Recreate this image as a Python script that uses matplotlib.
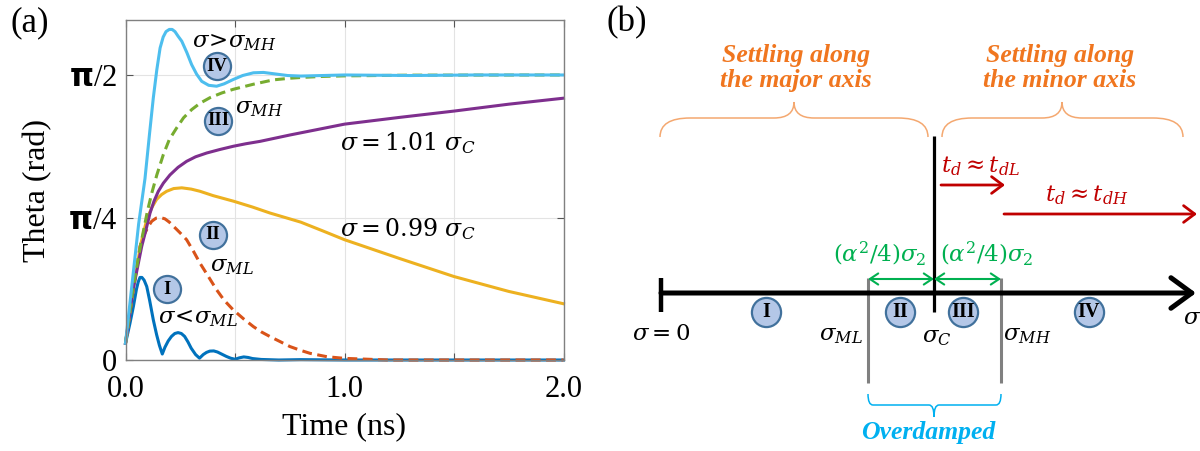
import numpy as np
import matplotlib
matplotlib.use('Agg')
import matplotlib.pyplot as plt
from matplotlib.path import Path
from matplotlib.patches import PathPatch

# theta(t) for each damping regime, t in ns, theta in rad
t_low = [0, 0.02, 0.036, 0.05, 0.058, 0.066, 0.075, 0.085, 0.097, 0.11, 0.127, 0.142,
         0.155, 0.168, 0.18, 0.195, 0.21, 0.225, 0.24, 0.255, 0.27, 0.285, 0.3, 0.32,
         0.338, 0.355, 0.37, 0.385, 0.403, 0.42, 0.44, 0.46, 0.48, 0.5, 0.52, 0.54,
         0.56, 0.58, 0.62, 0.7, 0.8, 1.0, 2.0]
th_low = [0.092, 0.2, 0.295, 0.39, 0.43, 0.455, 0.455, 0.44, 0.405, 0.33, 0.221, 0.14,
          0.08, 0.033, 0.07, 0.105, 0.13, 0.146, 0.151, 0.146, 0.13, 0.1, 0.065, 0.03,
          0.01, 0.03, 0.042, 0.049, 0.05, 0.044, 0.032, 0.02, 0.01, 0.004, 0.012, 0.017,
          0.014, 0.008, 0.003, 0.0, 0.002, 0.0, 0.0]

t_ml = [0, 0.035, 0.066, 0.085, 0.104, 0.12, 0.14, 0.16, 0.18, 0.2, 0.22, 0.25, 0.279,
        0.31, 0.34, 0.38, 0.416, 0.45, 0.492, 0.54, 0.584, 0.62, 0.66, 0.7, 0.751, 0.8,
        0.842, 0.92, 1.0, 1.2, 2.0]
th_ml = [0.092, 0.38, 0.626, 0.69, 0.736, 0.765, 0.782, 0.785, 0.778, 0.76, 0.736, 0.7,
         0.663, 0.6, 0.534, 0.457, 0.387, 0.33, 0.276, 0.226, 0.184, 0.155, 0.129, 0.105,
         0.074, 0.053, 0.037, 0.018, 0.009, 0.0, 0.0]

t_099 = [0, 0.035, 0.07, 0.097, 0.12, 0.142, 0.165, 0.188, 0.22, 0.257, 0.3, 0.34, 0.4,
         0.494, 0.58, 0.66, 0.8, 0.9, 1.0, 1.25, 1.5, 1.75, 2.0]
th_099 = [0.092, 0.39, 0.64, 0.774, 0.84, 0.885, 0.912, 0.93, 0.945, 0.949, 0.942, 0.93,
          0.906, 0.875, 0.843, 0.81, 0.76, 0.712, 0.663, 0.56, 0.46, 0.378, 0.31]

t_101 = [0, 0.035, 0.074, 0.095, 0.112, 0.13, 0.15, 0.173, 0.203, 0.24, 0.279, 0.32,
         0.371, 0.43, 0.492, 0.55, 0.614, 0.75, 0.875, 1.0, 1.25, 1.5, 1.75, 2.0]
th_101 = [0.092, 0.39, 0.626, 0.725, 0.81, 0.875, 0.93, 0.975, 1.02, 1.062, 1.095, 1.12,
          1.141, 1.16, 1.178, 1.192, 1.205, 1.24, 1.27, 1.3, 1.337, 1.372, 1.41, 1.443]

t_mh = [0, 0.035, 0.07, 0.1, 0.12, 0.143, 0.173, 0.2, 0.234, 0.265, 0.302, 0.34, 0.386,
        0.44, 0.492, 0.584, 0.675, 0.75, 0.812, 0.9, 1.0, 1.3, 2.0]
th_mh = [0.092, 0.4, 0.64, 0.82, 0.92, 1.02, 1.133, 1.215, 1.28, 1.335, 1.38, 1.415,
         1.446, 1.472, 1.492, 1.52, 1.544, 1.553, 1.558, 1.563, 1.566, 1.57, 1.571]

t_high = [0, 0.03, 0.06, 0.089, 0.11, 0.127, 0.143, 0.158, 0.172, 0.185, 0.2, 0.213,
          0.226, 0.24, 0.257, 0.28, 0.302, 0.325, 0.348, 0.38, 0.416, 0.45, 0.492, 0.535,
          0.584, 0.63, 0.675, 0.74, 0.8, 0.9, 1.0, 1.3, 1.6, 2.0]
th_high = [0.092, 0.42, 0.75, 1.0, 1.25, 1.445, 1.6, 1.72, 1.78, 1.81, 1.822, 1.822,
           1.81, 1.785, 1.757, 1.695, 1.628, 1.575, 1.536, 1.514, 1.509, 1.522, 1.546,
           1.568, 1.583, 1.585, 1.578, 1.568, 1.565, 1.568, 1.571, 1.568, 1.571, 1.571]

xticks = [0, 0.5, 1.0, 1.5, 2.0]
xticklabels = ['0.0', '', '1.0', '', '2.0']
yticks = [0, np.pi / 4, np.pi / 2]
yticklabels = ['0', r'$\mathbf{\pi}$/4', r'$\mathbf{\pi}$/2']

plt.rcParams['font.family'] = 'Liberation Serif'
plt.rcParams['mathtext.fontset'] = 'custom'
plt.rcParams['mathtext.rm'] = 'DejaVu Serif'
plt.rcParams['mathtext.it'] = 'DejaVu Serif:italic'
plt.rcParams['mathtext.bf'] = 'DejaVu Sans:bold'

fig = plt.figure(figsize=(12, 4.51), dpi=100)
W, H = 1200, 451

# ---- (a) time traces ----
ax = fig.add_axes([125.5 / W, 91 / H, 438 / W, 340 / H])
curves = [
    (t_low, th_low, '#0072BD', False),
    (t_ml, th_ml, '#D95319', True),
    (t_099, th_099, '#EDB120', False),
    (t_101, th_101, '#7E2F8E', False),
    (t_mh, th_mh, '#77AC30', True),
    (t_high, th_high, '#4DBEEE', False),
]
for t, th, c, dashed in curves:
    line, = ax.plot(t, th, color=c, lw=2.2, clip_on=False, solid_joinstyle='round')
    if dashed:
        line.set_dashes((3.2, 1.8))

ax.set_xlim(0, 2)
ax.set_ylim(0, 1.874)
ax.set_xticks(xticks)
ax.set_xticklabels(xticklabels)
ax.set_yticks(yticks)
ax.set_yticklabels(yticklabels)
ax.grid(color='#E3E3E3', lw=0.8)
ax.set_axisbelow(True)
ax.tick_params(direction='in', top=True, right=True, length=5, width=0.8,
               color='#555555', labelsize=22)
ax.tick_params(axis='x', pad=11)
ax.tick_params(axis='y', pad=6)
for s in ax.spines.values():
    s.set_color('#808080')
    s.set_linewidth(1.0)
ax.set_xlabel('Time (ns)', fontsize=23)
ax.set_ylabel('Theta (rad)', fontsize=23)
ax.xaxis.set_label_coords(0.5, -0.155)
ax.yaxis.set_label_coords(-0.168, 0.5)

circ_face = '#B4C7E7'
circ_edge = '#41719C'


def roman(axes, x, y, label, ms, fs, **kw):
    axes.plot([x], [y], marker='o', ms=ms, mfc=circ_face, mec=circ_edge, mew=1.6,
              ls='none', clip_on=False, zorder=5, **kw)
    axes.text(x, y, label, ha='center', va='center', fontsize=fs, fontweight='bold',
              zorder=6, clip_on=False, **kw)


roman(ax, 0.416, 1.619, 'IV', 19.5, 13.5)
roman(ax, 0.424, 1.319, 'III', 19.5, 13.5)
roman(ax, 0.398, 0.690, 'II', 19.5, 13.5)
roman(ax, 0.191, 0.390, 'I', 19.5, 13.5)

afs = 16.5
ax.text(0.304, 1.75, r'$\sigma\!>\!\sigma_{MH}$', fontsize=afs, va='center')
ax.text(0.50, 1.385, r'$\sigma_{MH}$', fontsize=afs, va='center')
ax.text(0.98, 1.195, r'$\sigma = 1.01\ \sigma_C$', fontsize=17, va='center')
ax.text(0.98, 0.72, r'$\sigma = 0.99\ \sigma_C$', fontsize=17, va='center')
ax.text(0.386, 0.515, r'$\sigma_{ML}$', fontsize=afs, va='center')
ax.text(0.148, 0.228, r'$\sigma\!<\!\sigma_{ML}$', fontsize=afs, va='center')

fig.text(10 / W, 1 - 6 / H, '(a)', fontsize=25, va='top')
fig.text(607 / W, 1 - 6 / H, '(b)', fontsize=25, va='top')

# ---- (b) regime diagram, drawn in figure pixels ----
ov = fig.add_axes([0, 0, 1, 1])
ov.set_xlim(0, W)
ov.set_ylim(H, 0)
ov.axis('off')
ov.patch.set_alpha(0)

axis_y = 293
x_zero = 661
x_ml, x_c, x_mh = 868, 934, 1001
x_end = 1196
orange = '#F0761F'
brace_col = '#F4A870'
red = '#C00000'
green = '#00B050'
cyan = '#00B0F0'


def brace(x0, x1, xm, y_end, y_flat, y_tip, r_end, r_tip, color, lw):
    verts = [(x0, y_end), (x0, y_flat), (x0 + r_end, y_flat),
             (xm - r_tip, y_flat), (xm, y_flat), (xm, y_tip),
             (xm, y_flat), (xm + r_tip, y_flat),
             (x1 - r_end, y_flat), (x1, y_flat), (x1, y_end)]
    codes = [Path.MOVETO, Path.CURVE3, Path.CURVE3,
             Path.LINETO, Path.CURVE3, Path.CURVE3,
             Path.CURVE3, Path.CURVE3,
             Path.LINETO, Path.CURVE3, Path.CURVE3]
    ov.add_patch(PathPatch(Path(verts, codes), fc='none', ec=color, lw=lw))


def arrow(x0, x1, y, color, lw, style):
    ov.annotate('', xy=(x1, y), xytext=(x0, y),
                arrowprops=dict(arrowstyle=style, color=color, lw=lw,
                                shrinkA=0, shrinkB=0, mutation_scale=20))


# top braces and headings
brace(660, 928, 794, 137, 118, 102, 30, 20, brace_col, 1.1)
brace(942, 1183, 1062, 137, 118, 102, 30, 20, brace_col, 1.1)
bfs = 18.5
ov.text(796, 68, 'Settling along\nthe major axis', ha='center', va='center',
        fontsize=bfs, fontweight='bold', fontstyle='italic', color=orange,
        family='Liberation Serif', linespacing=1.1)
ov.text(1060, 68, 'Settling along\nthe minor axis', ha='center', va='center',
        fontsize=bfs, fontweight='bold', fontstyle='italic', color=orange,
        family='Liberation Serif', linespacing=1.1)

# sigma axis
ov.plot([x_c, x_c], [136, 312], color='black', lw=2.3, solid_capstyle='butt')
arrow(x_zero, x_end, axis_y, 'black', 3.6, '->,head_length=0.75,head_width=0.55')
ov.plot([x_zero, x_zero], [278, 312], color='black', lw=3.2, solid_capstyle='butt')
for xg in (x_ml, x_mh):
    ov.plot([xg, xg], [278, 383], color='#808080', lw=2.2, solid_capstyle='butt')

# delay arrows
arrow(941, 1005, 185, red, 2.0, '->,head_length=0.4,head_width=0.3')
arrow(1004, 1197, 214, red, 2.0, '->,head_length=0.4,head_width=0.3')
ov.text(941, 166, r'$t_d \approx t_{dL}$', fontsize=afs, color=red, va='center')
ov.text(1045, 195, r'$t_d \approx t_{dH}$', fontsize=afs, color=red, va='center')

# overdamped band width
arrow(x_c, x_ml, 279, green, 1.5, '<->,head_length=0.3,head_width=0.2')
arrow(x_c, x_mh, 279, green, 1.5, '<->,head_length=0.3,head_width=0.2')
ov.text(880, 254, r'$(\alpha^2/4)\sigma_2$', fontsize=afs, color=green,
        ha='center', va='center')
ov.text(987, 254, r'$(\alpha^2/4)\sigma_2$', fontsize=afs, color=green,
        ha='center', va='center')

# regime markers and sigma labels
for xr, lab in [(766, 'I'), (900, 'II'), (963, 'III'), (1089, 'IV')]:
    roman(ov, xr, 312, lab, 21, 14.5)
ov.text(632, 334, r'$\sigma = 0$', fontsize=afs, va='center')
ov.text(863, 336, r'$\sigma_{ML}$', fontsize=afs, va='center', ha='right')
ov.text(922, 338, r'$\sigma_C$', fontsize=afs, va='center')
ov.text(1003, 336, r'$\sigma_{MH}$', fontsize=afs, va='center')
ov.text(1183, 318, r'$\sigma$', fontsize=afs, va='center')

brace(x_ml, x_mh, x_c, 394, 405, 417, 5, 5, cyan, 1.1)
ov.text(928, 433, 'Overdamped', ha='center', va='center', fontsize=bfs,
        fontweight='bold', fontstyle='italic', color=cyan,
        family='Liberation Serif')

fig.savefig('out.png', dpi=100)
